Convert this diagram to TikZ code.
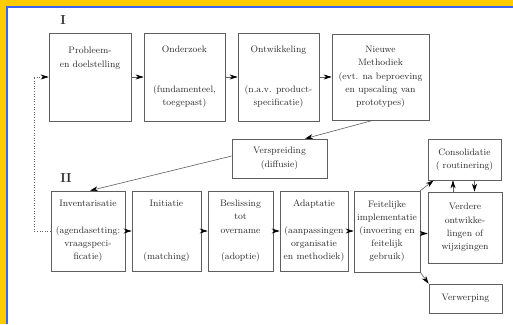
\documentclass[tikz,border=0pt]{standalone}
\usetikzlibrary{arrows.meta,calc}
\definecolor{frameyellow}{RGB}{255,204,0}
\definecolor{frameblue}{RGB}{60,100,240}
\definecolor{boxgray}{RGB}{95,95,95}
\definecolor{textgray}{RGB}{45,45,45}
\begin{document}
\begin{tikzpicture}[x=1pt,y=-1pt,
  box/.style={draw=boxgray,line width=0.7pt,inner sep=0pt,align=center,text=textgray,
    font=\fontsize{9.4}{13.2}\selectfont},
  conn/.style={draw=boxgray,line width=0.6pt,-{Stealth[length=8pt,width=5pt,black]}},
  roman/.style={font=\fontsize{13}{15}\selectfont\bfseries,inner sep=0pt,text=textgray}]
\useasboundingbox (0,0) rectangle (513,324);
\fill[white] (0,0) rectangle (513,324);
\fill[frameyellow] (0,0) rectangle (513,6);
\fill[frameyellow] (0,0) rectangle (6,324);
\fill[frameblue] (6,6) rectangle (513,8);
\fill[frameblue] (6,6) rectangle (8,324);
% row I
\node[box,minimum width=82,minimum height=88] (b1) at (90,77)
  {Probleem-\\en doelstelling\\\mbox{}\\\mbox{}\\\mbox{}};
\node[box,minimum width=81,minimum height=88] (b2) at (184.5,77)
  {Onderzoek\\\mbox{}\\\mbox{}\\(fundamenteel,\\toegepast)};
\node[box,minimum width=81,minimum height=88] (b3) at (278.5,77)
  {Ontwikkeling\\\mbox{}\\\mbox{}\\(n.a.v. product-\\specificatie)};
\node[box,minimum width=97,minimum height=86] (b4) at (380.5,77)
  {Nieuwe\\Methodiek\\(evt. na beproeving\\en upscaling van\\prototypes)};
\node[box,minimum width=95,minimum height=39] (vs) at (279.5,158.5)
  {Verspreiding\\(diffusie)};
% row II
\node[box,minimum width=74,minimum height=80] (inv) at (88,231)
  {Inventarisatie\\\mbox{}\\(agendasetting:\\vraagspeci-\\ficatie)};
\node[box,minimum width=69,minimum height=80] (ini) at (166.5,231)
  {Initiatie\\\mbox{}\\\mbox{}\\\mbox{}\\(matching)};
\node[box,minimum width=65,minimum height=80] (bes) at (240.5,231)
  {Beslissing\\tot\\overname\\\mbox{}\\(adoptie)};
\node[box,minimum width=68,minimum height=80] (ada) at (314,231)
  {Adaptatie\\\mbox{}\\(aanpassingen\\organisatie\\en methodiek)};
\node[box,minimum width=66,minimum height=81] (fei) at (387,231.5)
  {Feitelijke\\implementatie\\(invoering en\\feitelijk\\gebruik)};
\node[box,minimum width=74,minimum height=71] (ver) at (465,227.5)
  {Verdere\\ontwikke-\\lingen of\\wijzigingen};
\node[box,minimum width=73,minimum height=41] (con) at (464.5,159.5)
  {Consolidatie\\( routinering)};
\node[box,minimum width=73,minimum height=29] (vw) at (465.5,298.5)
  {Verwerping};
% labels
\node[roman] (l1) at (63,20) {I};
\node[roman] (l2) at (66,178) {II};
% connectors row I
\draw[conn] (b1.east) -- (b2.west);
\draw[conn] (b2.east) -- (b3.west);
\draw[conn] (b3.east) -- (b4.west);
\draw[conn] ([xshift=-7.5pt]b4.south) -- ([xshift=25.5pt]vs.north);
\draw[conn] ([yshift=2.5pt]vs.west) -- ([xshift=2pt]inv.north);
% row II
\draw[conn] (inv.east) -- (ini.west);
\draw[conn] (ini.east) -- (bes.west);
\draw[conn] (bes.east) -- (ada.west);
\draw[conn] (ada.east) -- (ada.east -| fei.west);
\draw[conn] ([yshift=-2pt]fei.east) -- ([yshift=-2pt]fei.east -| ver.west);
\draw[conn] (fei.north east) -- ([xshift=6pt]con.south west);
\draw[conn] (fei.south east) -- (vw.north west);
\draw[conn] ([xshift=-12pt]ver.north) -- ([xshift=-12pt]ver.north |- con.south);
\draw[conn] ([xshift=10pt]con.south) -- ([xshift=10pt]con.south |- ver.north);
% feedback dotted
\coordinate (d1) at (34,231);
\coordinate (d2) at (34,77);
\draw[boxgray,line width=0.6pt,dotted] (inv.west) -- (d1) -- (d2);
\draw[conn,dotted] (d2) -- (b1.west);
\end{tikzpicture}
\end{document}
